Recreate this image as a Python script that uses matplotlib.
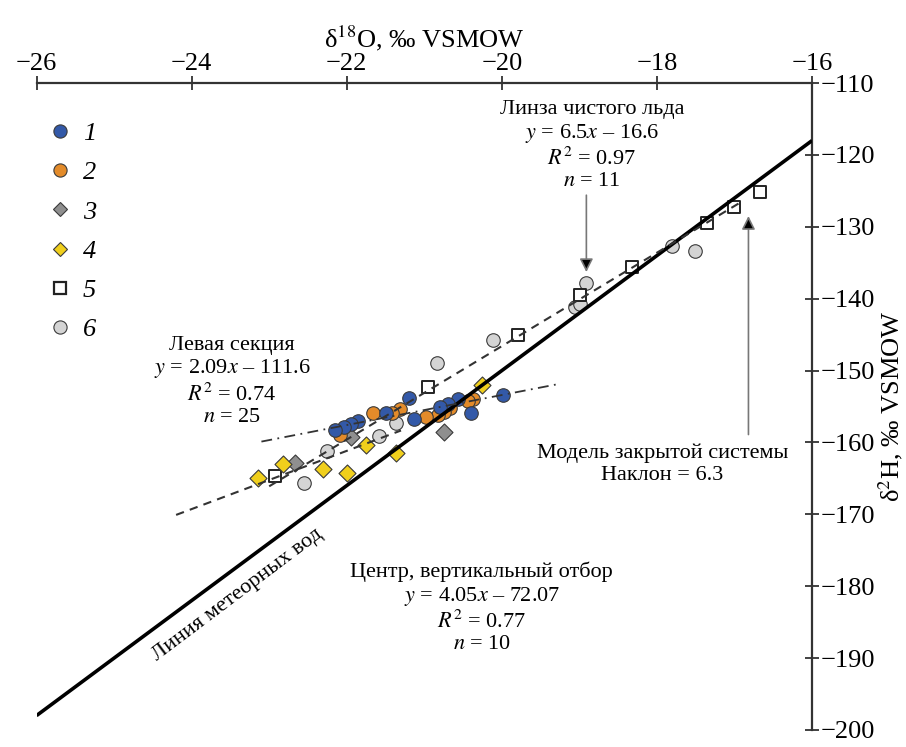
import matplotlib
matplotlib.use('Agg')
import matplotlib.pyplot as plt
import numpy as np
from matplotlib.lines import Line2D

plt.rcParams['font.family'] = ['Liberation Serif', 'DejaVu Serif']
plt.rcParams['mathtext.fontset'] = 'stix'

### data (d18O, d2H)
blue_x = [-19.98, -20.40, -20.57, -20.70, -20.80, -21.13, -21.20, -21.50, -21.85, -21.95, -22.03, -22.15]
blue_y = [-153.4, -155.9, -153.9, -154.6, -155.0, -156.8, -153.8, -155.9, -157.0, -157.4, -157.9, -158.3]

orange_x = [-20.37, -20.44, -20.67, -20.75, -20.82, -20.98, -21.31, -21.42, -21.66, -22.09]
orange_y = [-153.9, -154.2, -155.2, -155.8, -156.2, -156.4, -155.3, -155.9, -155.9, -158.9]

grey_d_x = [-20.75, -21.94, -22.67]
grey_d_y = [-158.5, -159.3, -162.9]

yellow_x = [-20.26, -21.36, -21.75, -22.00, -22.30, -22.82, -23.15]
yellow_y = [-152.0, -161.5, -160.4, -164.3, -163.7, -163.0, -165.0]

square_x = [-22.92, -20.95, -19.79, -18.99, -18.32, -17.36, -17.01, -16.67]
square_y = [-164.7, -152.3, -145.0, -139.5, -135.6, -129.5, -127.2, -125.1]

light_x = [-20.11, -20.84, -21.36, -21.59, -22.26, -22.55, -18.91, -19.06, -18.99, -17.81, -17.51]
light_y = [-145.7, -148.9, -157.3, -159.1, -161.2, -165.7, -137.8, -141.1, -140.8, -132.6, -133.3]

legend_labels = ['1', '2', '3', '4', '5', '6']

### fit lines: slope, intercept, x-range
gmwl = (8.0, 10.0, -26.0, -16.0)
ice_fit = (6.5, -16.6, -23.0, -16.9)
left_fit = (2.09, -111.6, -23.1, -19.3)
centre_fit = (4.05, -72.07, -24.2, -21.3)

font = {'family': 'Liberation Serif', 'size': 16, 'color': 'black'}

fig = plt.figure(figsize=(9.06, 7.47), dpi=100)
ax = fig.add_axes([0.0403, 0.0228, 0.856, 0.866])

edge = '#3a3a3a'
ax.scatter(light_x, light_y, s=95, marker='o', c='#d4d4d4', edgecolors=edge, linewidths=0.8, zorder=3)
ax.scatter(square_x, square_y, s=80, marker='s', c='white', edgecolors='#222222', linewidths=1.4, zorder=3)
ax.scatter(grey_d_x, grey_d_y, s=75, marker='D', c='#8f8f8f', edgecolors=edge, linewidths=0.8, zorder=3)
ax.scatter(yellow_x, yellow_y, s=75, marker='D', c='#f0cf1c', edgecolors=edge, linewidths=0.8, zorder=3)
ax.scatter(orange_x, orange_y, s=95, marker='o', c='#e38b2a', edgecolors=edge, linewidths=0.8, zorder=3)
ax.scatter(blue_x, blue_y, s=95, marker='o', c='#3359a8', edgecolors=edge, linewidths=0.8, zorder=3)

def fit_line(p):
    xx = np.array([p[2], p[3]])
    return xx, p[0] * xx + p[1]

xx, yy = fit_line(gmwl)
ax.plot(xx, yy, color='black', lw=2.6, solid_capstyle='butt', zorder=4)
xx, yy = fit_line(ice_fit)
ax.plot(xx, yy, color='#333333', lw=1.5, ls=(0, (4, 3)), zorder=4)
xx, yy = fit_line(centre_fit)
ax.plot(xx, yy, color='#333333', lw=1.5, ls=(0, (4, 3)), zorder=4)
xx, yy = fit_line(left_fit)
ax.plot(xx, yy, color='#333333', lw=1.3, ls=(0, (6, 3, 1, 3)), zorder=4)

ax.set_xlim(-26, -16)
ax.set_ylim(-200, -110)
ax.set_xticks(np.arange(-26, -15, 2))
ax.set_yticks(np.arange(-200, -109, 10))

ax.spines['left'].set_visible(False)
ax.spines['bottom'].set_visible(False)
for s in ['top', 'right']:
    ax.spines[s].set_linewidth(1.6)
    ax.spines[s].set_color('#333333')
ax.xaxis.tick_top()
ax.yaxis.tick_right()
ax.xaxis.set_label_position('top')
ax.yaxis.set_label_position('right')
ax.tick_params(axis='both', direction='inout', length=10, width=1.3, color='#333333',
               labelsize=19, pad=1)

ax.set_xlabel('δ$^{18}$O, ‰ VSMOW', fontsize=19, labelpad=4)
ax.set_ylabel('δ$^{2}$H, ‰ VSMOW', fontsize=19, labelpad=1, rotation=90)

### annotations
ax.text(-18.84, -118.7, 'Линза чистого льда\n$y$ = 6.5$x$ – 16.6\n$R^2$ = 0.97\n$n$ = 11',
        ha='center', va='center', linespacing=1.18, fontdict=font)
ax.text(-23.48, -151.5, 'Левая секция\n$y$ = 2.09$x$ – 111.6\n$R^2$ = 0.74\n$n$ = 25',
        ha='center', va='center', linespacing=1.18, fontdict=font)
ax.text(-20.26, -183.0, 'Центр, вертикальный отбор\n$y$ = 4.05$x$ – 72.07\n$R^2$ = 0.77\n$n$ = 10',
        ha='center', va='center', linespacing=1.18, fontdict=font)
ax.text(-17.93, -163.0, 'Модель закрытой системы\nНаклон = 6.3',
        ha='center', va='center', linespacing=1.18, fontdict=font)
ax.text(-23.41, -181.2, 'Линия метеорных вод', ha='center', va='center',
        rotation=37, rotation_mode='anchor', fontdict=font)

arrow = dict(arrowstyle='-|>', fc='black', ec='#777777', lw=1.2, mutation_scale=20, shrinkA=0, shrinkB=0)
ax.annotate('', xy=(-18.91, -136.3), xytext=(-18.91, -125.6), arrowprops=arrow)
ax.annotate('', xy=(-16.82, -128.5), xytext=(-16.82, -158.9), arrowprops=arrow)

### legend
handles = [
    Line2D([], [], ls='none', marker='o', ms=9.5, mfc='#3359a8', mec=edge, mew=0.8),
    Line2D([], [], ls='none', marker='o', ms=9.5, mfc='#e38b2a', mec=edge, mew=0.8),
    Line2D([], [], ls='none', marker='D', ms=7, mfc='#8f8f8f', mec=edge, mew=0.8),
    Line2D([], [], ls='none', marker='D', ms=7, mfc='#f0cf1c', mec=edge, mew=0.8),
    Line2D([], [], ls='none', marker='s', ms=8.5, mfc='white', mec='#222222', mew=1.6),
    Line2D([], [], ls='none', marker='o', ms=9.5, mfc='#d4d4d4', mec=edge, mew=0.8),
]
ax.legend(handles, legend_labels, loc='upper left', bbox_to_anchor=(0.0, 0.957),
          frameon=False, handlelength=1.0, handletextpad=0.35, labelspacing=0.6,
          borderaxespad=0.0, prop={'family': 'Liberation Serif', 'style': 'italic', 'size': 19})

plt.savefig('out.png', dpi=100)
